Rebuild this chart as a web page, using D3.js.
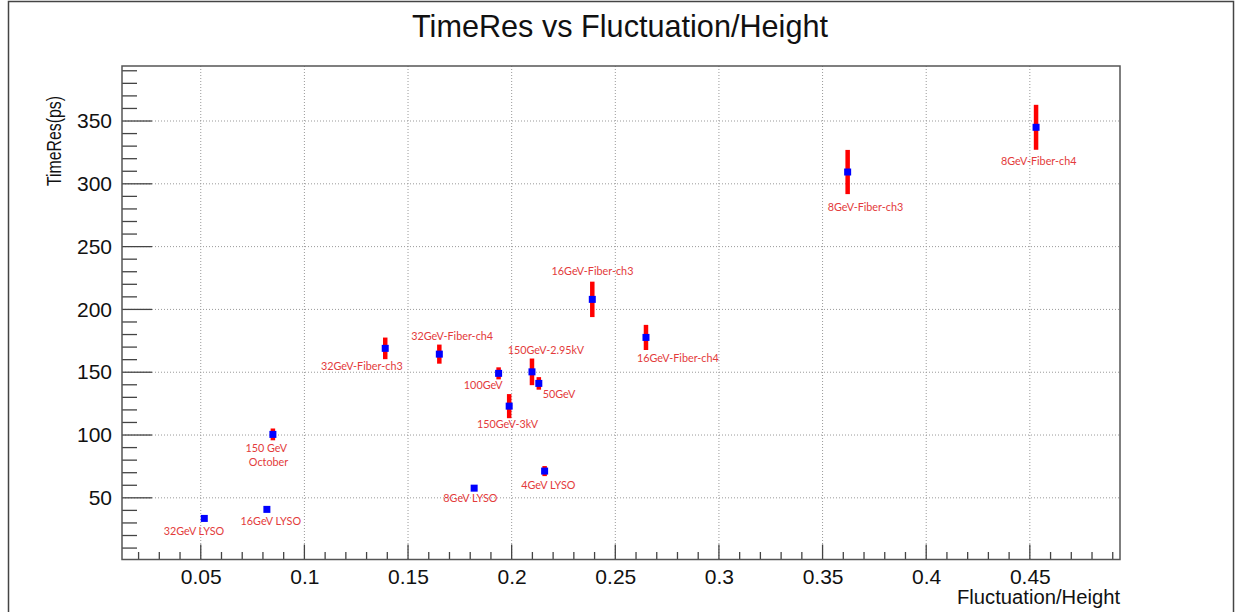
<!DOCTYPE html>
<html><head><meta charset="utf-8">
<script src="https://cdn.jsdelivr.net/npm/d3@7"></script>
<style>body{margin:0;background:#fff}svg{display:block}</style>
</head><body>
<svg id="c" width="1241" height="612"></svg>
<script>
// ---- data ----
const names = ["32GeV LYSO","16GeV LYSO","8GeV LYSO","4GeV LYSO","150 GeV October","150GeV-3kV","100GeV","150GeV-2.95kV","50GeV","32GeV-Fiber-ch3","32GeV-Fiber-ch4","16GeV-Fiber-ch3","16GeV-Fiber-ch4","8GeV-Fiber-ch3","8GeV-Fiber-ch4"];
const fluct = [0.0517,0.0819,0.1819,0.2159,0.0848,0.1988,0.1937,0.2098,0.2131,0.1390,0.1651,0.2389,0.2648,0.3621,0.4530];
const timeRes = [33.6,40.8,57.7,71.3,100.5,123.0,149.1,150.3,141.1,169.0,164.4,208.0,177.7,309.4,345.0];
const timeErr = [0,0,0,4,4.7,9.6,4.8,10.6,5,8.6,7.6,14.1,10,17.6,17.9];
// annotation texts and their anchor (data coords: x centre, y baseline)
const labelText = ["32GeV LYSO","16GeV LYSO","8GeV LYSO","4GeV LYSO","150 GeV","October","150GeV-3kV","100GeV","50GeV","150GeV-2.95kV","32GeV-Fiber-ch3","32GeV-Fiber-ch4","16GeV-Fiber-ch3","16GeV-Fiber-ch4","8GeV-Fiber-ch3","8GeV-Fiber-ch4"];
const labelX = [0.0467,0.0838,0.1801,0.2177,0.0816,0.0827,0.1980,0.1863,0.2228,0.2165,0.1277,0.1713,0.2390,0.2802,0.3707,0.4543];
const labelY = [20.3,28.5,46.8,56.9,86.6,75.2,105.3,136.6,129.4,164.4,151.7,175.6,227.6,157.8,278.1,315.0];
const xDomain = [0.012, 0.4935];
const yDomain = [0.9, 393.8];
const xMajor = [0.05,0.1,0.15,0.2,0.25,0.3,0.35,0.4,0.45];
const yMajor = [50,100,150,200,250,300,350];
const title = "TimeRes vs Fluctuation/Height";
const xTitle = "Fluctuation/Height";
const yTitle = "TimeRes(ps)";

// ---- layout ----
const L = 122, R = 1120, T = 66, B = 559.5;
const svg = d3.select("#c");
const x = d3.scaleLinear().domain(xDomain).range([L, R]);
const y = d3.scaleLinear().domain(yDomain).range([B, T]);
const font = "'Liberation Sans', Arial, sans-serif";

svg.append("rect").attr("x",8.5).attr("y",1.5).attr("width",1225).attr("height",615)
  .attr("fill","none").attr("stroke","#444").attr("stroke-width",1.5);

// grid
const g = svg.append("g");
g.selectAll(".gx").data(xMajor).enter().append("line")
  .attr("x1",d=>x(d)).attr("x2",d=>x(d)).attr("y1",T).attr("y2",B)
  .attr("stroke","#999").attr("stroke-width",1).attr("stroke-dasharray","1,2");
g.selectAll(".gy").data(yMajor).enter().append("line")
  .attr("y1",d=>y(d)).attr("y2",d=>y(d)).attr("x1",L).attr("x2",R)
  .attr("stroke","#999").attr("stroke-width",1).attr("stroke-dasharray","1,2");

// minor ticks from scale
const xMinor = d3.range(Math.ceil(xDomain[0]*100), Math.floor(xDomain[1]*100)+1).map(v=>v/100);
const yMinor = d3.range(Math.ceil(yDomain[0]/10), Math.floor(yDomain[1]/10)+1).map(v=>v*10);

const ax = svg.append("g");
ax.selectAll(".xt").data(xMinor).enter().append("line")
  .attr("x1",d=>x(d)).attr("x2",d=>x(d))
  .attr("y1",B).attr("y2",d=>B-(xMajor.some(m=>Math.abs(m-d)<1e-9)?15:7.5))
  .attr("stroke","#444").attr("stroke-width",1.3);
ax.selectAll(".yt").data(yMinor).enter().append("line")
  .attr("y1",d=>y(d)).attr("y2",d=>y(d))
  .attr("x1",L).attr("x2",d=>L+(yMajor.includes(d)?30:15))
  .attr("stroke","#444").attr("stroke-width",1.3);

// tick labels via axis generators
const xa = svg.append("g").attr("transform",`translate(0,${B})`)
  .call(d3.axisBottom(x).tickValues(xMajor).tickSize(0).tickPadding(6).tickFormat(d3.format("~g")));
xa.select(".domain").remove();
xa.selectAll("text").attr("font-family",font).attr("font-size",21).attr("fill","#111").attr("dy","0.88em");
const ya = svg.append("g").attr("transform",`translate(${L},0)`)
  .call(d3.axisLeft(y).tickValues(yMajor).tickSize(0).tickPadding(10).tickFormat(d3.format("d")));
ya.select(".domain").remove();
ya.selectAll("text").attr("font-family",font).attr("font-size",21).attr("fill","#111");

// frame
svg.append("rect").attr("x",L).attr("y",T).attr("width",R-L).attr("height",B-T)
  .attr("fill","none").attr("stroke","#555").attr("stroke-width",1.5);

// titles
svg.append("text").attr("x",620).attr("y",37).attr("text-anchor","middle")
  .attr("font-family",font).attr("font-size",32).attr("fill","#111")
  .attr("textLength",416).attr("lengthAdjust","spacingAndGlyphs").text(title);
svg.append("text").attr("x",R).attr("y",604).attr("text-anchor","end")
  .attr("font-family",font).attr("font-size",20).attr("fill","#111")
  .attr("textLength",163).attr("lengthAdjust","spacingAndGlyphs").text(xTitle);
svg.append("text").attr("transform",`translate(61,96) rotate(-90)`).attr("text-anchor","end")
  .attr("font-family",font).attr("font-size",21).attr("fill","#111")
  .attr("textLength",90).attr("lengthAdjust","spacingAndGlyphs").text(yTitle);

// error bars + markers
const pts = fluct.map((f,i)=>({f, t:timeRes[i], e:timeErr[i]}));
svg.append("g").selectAll("line").data(pts.filter(d=>d.e>0)).enter().append("line")
  .attr("x1",d=>x(d.f)).attr("x2",d=>x(d.f)).attr("y1",d=>y(d.t-d.e)).attr("y2",d=>y(d.t+d.e))
  .attr("stroke","#ff0000").attr("stroke-width",4.5);
svg.append("g").selectAll("rect").data(pts).enter().append("rect")
  .attr("x",d=>x(d.f)-3.5).attr("y",d=>y(d.t)-3.5).attr("width",7).attr("height",7)
  .attr("fill","#0000ff");

// annotations
svg.append("g").selectAll("text").data(labelText).enter().append("text")
  .attr("x",(d,i)=>x(labelX[i])).attr("y",(d,i)=>y(labelY[i]))
  .attr("text-anchor","middle").attr("font-family","Lato, 'Open Sans', sans-serif")
  .attr("font-size",10.8).attr("fill","#e33b3b").text(d=>d);
</script>
</body></html>
